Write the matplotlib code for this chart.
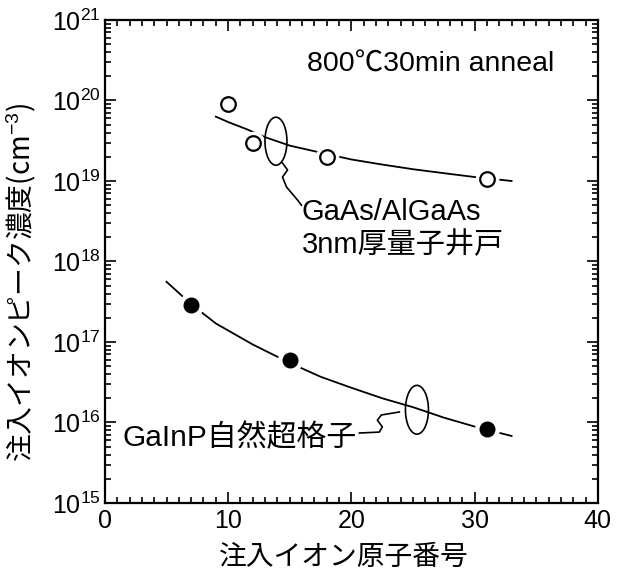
import matplotlib
matplotlib.use('Agg')
import matplotlib.pyplot as plt
from matplotlib.patches import Ellipse
from matplotlib.ticker import MultipleLocator, LogLocator, NullFormatter

plt.rcParams['font.family'] = ['Liberation Sans', 'Noto Sans CJK JP', 'DejaVu Sans']
plt.rcParams['mathtext.fontset'] = 'custom'
plt.rcParams['mathtext.rm'] = 'Liberation Sans'
plt.rcParams['mathtext.it'] = 'Liberation Sans'

# measured points (atomic number of implanted ion, peak concentration)
qw_z = [10, 12, 18, 31]                     # GaAs/AlGaAs 3nm QW, open circles
qw_conc = [9.1e19, 3.0e19, 2.0e19, 1.05e19]
sl_z = [7, 15, 31]                          # GaInP natural superlattice, filled
sl_conc = [2.9e17, 6.0e16, 8.3e15]

# guide-to-the-eye curves
qw_curve_z = [9, 10, 11.5, 13, 15, 17.5, 20, 22.5, 25, 27.5, 30, 33]
qw_curve_conc = [6.3e19, 5.4e19, 4.4e19, 3.5e19, 2.75e19, 2.25e19, 1.85e19,
                 1.6e19, 1.4e19, 1.25e19, 1.12e19, 1.0e19]
sl_curve_z = [5, 7, 9, 12, 15, 17.5, 20, 22.5, 25, 27.5, 30, 33]
sl_curve_conc = [5.6e17, 2.95e17, 1.7e17, 9.3e16, 5.5e16, 3.7e16, 2.7e16,
                 2.0e16, 1.55e16, 1.15e16, 8.9e15, 6.8e15]

# leader squiggles (annotation lines)
qw_lead_z = [14.41, 14.82, 14.41, 14.74, 15.63, 15.95]
qw_lead_conc = [1.67e19, 1.37e19, 1.12e19, 8.4e18, 5.8e18, 5.0e18]
sl_lead_z = [20.65, 22.27, 22.51, 22.11, 22.43, 23.89]
sl_lead_conc = [7.4e15, 7.6e15, 8.8e15, 1.07e16, 1.24e16, 1.35e16]

fig = plt.figure(figsize=(6.17, 5.74), dpi=100)
ax = fig.add_axes([0.170, 0.1237, 0.799, 0.8415])
ax.set_yscale('log')
ax.set_xlim(0, 40)
ax.set_ylim(1e15, 1e21)

# curves
ax.plot(qw_curve_z, qw_curve_conc, color='black', lw=1.3, zorder=2)
ax.plot(sl_curve_z, sl_curve_conc, color='black', lw=1.3, zorder=2)

# white gaps around the markers
ax.plot(qw_z, qw_conc, 'o', ms=16, color='white', mec='white', zorder=3)
ax.plot(sl_z, sl_conc, 'o', ms=17, color='white', mec='white', zorder=3)
ax.plot(qw_z, qw_conc, 'o', ms=10.5, mfc='white', mec='black', mew=1.6, zorder=4)
ax.plot(sl_z, sl_conc, 'o', ms=10.5, mfc='black', mec='black', zorder=4)

# ellipses and leaders
ax.add_patch(Ellipse((0.347, 0.749), 0.0446, 0.0994, transform=ax.transAxes,
                     fill=False, lw=1.2, color='black', zorder=5))
ax.add_patch(Ellipse((0.633, 0.193), 0.0467, 0.101, transform=ax.transAxes,
                     fill=False, lw=1.2, color='black', zorder=5))
ax.plot(qw_lead_z, qw_lead_conc, color='black', lw=1.2, zorder=5)
ax.plot(sl_lead_z, sl_lead_conc, color='black', lw=1.2, zorder=5)

# labels inside the plot
ax.text(0.41, 0.907, '800℃30min anneal', transform=ax.transAxes,
        fontsize=20.5, ha='left', va='center')
ax.text(15.95, 4.1e18, 'GaAs/AlGaAs', fontsize=21, ha='left', va='center')
ax.text(15.95, 1.6e18, '3nm厚量子井戸', fontsize=21, ha='left', va='center')
ax.text(1.46, 6.5e15, 'GaInP自然超格子', fontsize=21.5, ha='left', va='center')

# axes styling
for sp in ax.spines.values():
    sp.set_linewidth(1.6)
ax.xaxis.set_major_locator(MultipleLocator(10))
ax.xaxis.set_minor_locator(MultipleLocator(1))
ax.yaxis.set_major_locator(LogLocator(base=10, numticks=10))
ax.yaxis.set_minor_locator(LogLocator(base=10, subs=range(2, 10), numticks=10))
ax.yaxis.set_minor_formatter(NullFormatter())
ax.tick_params(which='both', direction='in', top=True, right=True, width=1.2)
ax.tick_params(which='major', length=8, labelsize=18)
ax.tick_params(which='minor', length=4)
ax.tick_params(axis='y', which='major', pad=3)
ax.tick_params(axis='x', which='major', pad=4)

ax.set_xlabel('注入イオン原子番号', fontsize=20, family='Noto Sans CJK JP')
ax.set_ylabel('注入イオンピーク濃度(cm$^{-3}$)', fontsize=20, family='Noto Sans CJK JP')
ax.xaxis.set_label_coords(0.485, -0.08)
ax.yaxis.set_label_coords(-0.135, 0.457)

fig.savefig('out.png', dpi=100)
